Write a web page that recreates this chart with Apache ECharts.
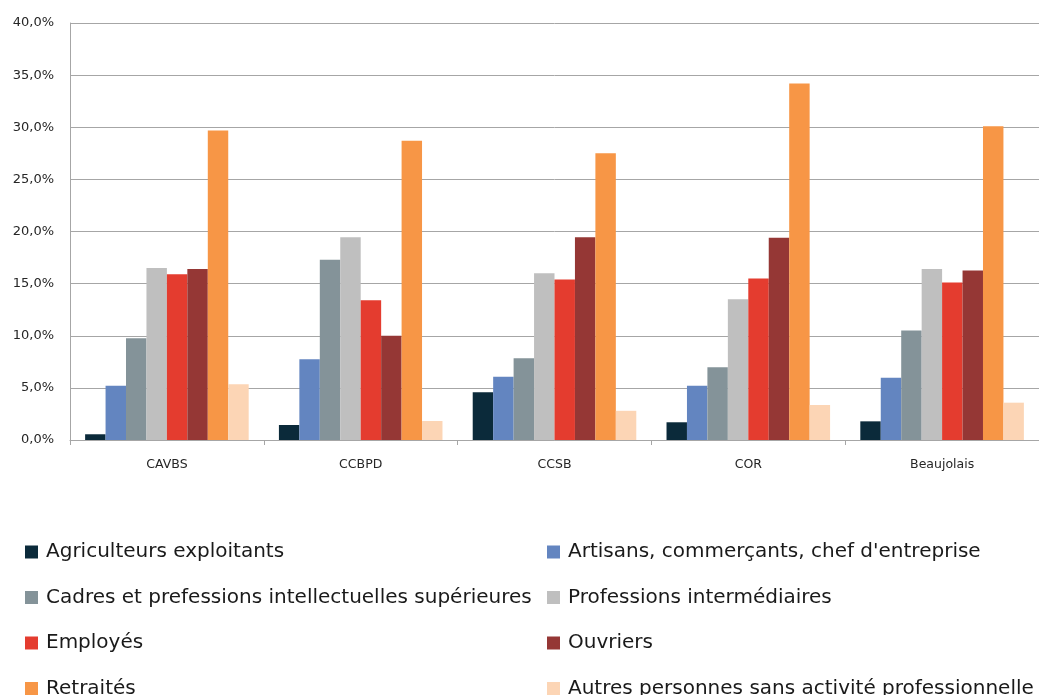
<!DOCTYPE html>
<html>
<head>
<meta charset="utf-8">
<script src="https://cdn.jsdelivr.net/npm/echarts@6/dist/echarts.min.js"></script>
<style>html,body{margin:0;padding:0;background:#fff}#c{width:1039px;height:695px}</style>
</head>
<body>
<div id="c"></div>
<script>
const categories = ['CAVBS', 'CCBPD', 'CCSB', 'COR', 'Beaujolais'];
const seriesNames = [
  'Agriculteurs exploitants',
  "Artisans, commerçants, chef d'entreprise",
  'Cadres et prefessions intellectuelles supérieures',
  'Professions intermédiaires',
  'Employés',
  'Ouvriers',
  'Retraités',
  'Autres personnes sans activité professionnelle'
];
const agriculteurs = [0.55, 1.44, 4.57, 1.7, 1.79];
const artisans = [5.2, 7.75, 6.07, 5.2, 5.98];
const cadres = [9.75, 17.3, 7.84, 6.97, 10.5];
const professionsInter = [16.5, 19.45, 16.0, 13.5, 16.4];
const employes = [15.9, 13.4, 15.4, 15.5, 15.1];
const ouvriers = [16.4, 10.0, 19.45, 19.4, 16.25];
const retraites = [29.7, 28.7, 27.5, 34.2, 30.1];
const autres = [5.35, 1.82, 2.8, 3.36, 3.58];
const colors = ['#0b2a3a', '#6385c0', '#849399', '#bfbfbf', '#e43c2f', '#953735', '#f79646', '#fcd5b5'];

const values = [agriculteurs, artisans, cadres, professionsInter, employes, ouvriers, retraites, autres];
const font = "'DejaVu Sans', sans-serif";

const chart = echarts.init(document.getElementById('c'));
const legendCommon = {
  orient: 'vertical', icon: 'rect', itemWidth: 13, itemHeight: 13, itemGap: 25.5,
  height: 180,
  textStyle: { fontFamily: font, fontSize: 20, color: '#1a1a1a', padding: [0, 0, 0, 3] },
  selectedMode: false
};
chart.setOption({
  animation: false,
  color: colors,
  grid: { left: 70, top: 23, bottom: 255, right: -8, containLabel: false },
  legend: [
    Object.assign({ left: 20, top: 537, data: [seriesNames[0], seriesNames[2], seriesNames[4], seriesNames[6]] }, legendCommon),
    Object.assign({ left: 542, top: 537, data: [seriesNames[1], seriesNames[3], seriesNames[5], seriesNames[7]] }, legendCommon)
  ],
  xAxis: {
    type: 'category', data: categories,
    axisLine: { lineStyle: { color: '#a6a6a6', width: 1 } },
    axisTick: { show: true, length: 5, alignWithLabel: false, lineStyle: { color: '#a6a6a6' } },
    axisLabel: { fontFamily: font, fontSize: 12.5, color: '#262626', margin: 18 }
  },
  yAxis: {
    type: 'value', min: 0, max: 40, interval: 5,
    axisLine: { show: true, lineStyle: { color: '#a6a6a6', width: 1 } },
    axisTick: { show: false },
    splitLine: { lineStyle: { color: '#a6a6a6', width: 1 } },
    axisLabel: {
      fontFamily: font, fontSize: 13, color: '#262626', margin: 16,
      formatter: v => v.toFixed(1).replace('.', ',') + '%'
    }
  },
  series: seriesNames.map((name, i) => ({
    name: name, type: 'bar', data: values[i],
    barGap: '0%', barCategoryGap: '15.6%',
    itemStyle: { color: colors[i] }
  }))
});
</script>
</body>
</html>
